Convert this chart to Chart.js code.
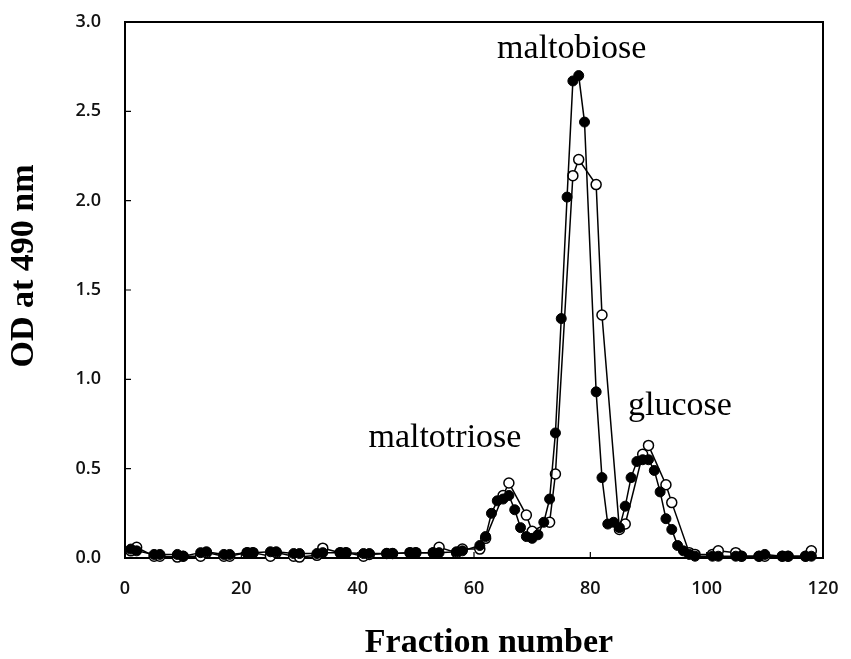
<!DOCTYPE html>
<html>
<head>
<meta charset="utf-8">
<script src="https://cdn.jsdelivr.net/npm/chart.js@4.4.0/dist/chart.umd.min.js"></script>
<style>
  html, body { margin: 0; padding: 0; background: #fff; }
  #wrap { width: 851px; height: 659px; position: relative; }
</style>
</head>
<body>
<div id="wrap"><canvas id="c"></canvas></div>
<script>
// Filled circles series
const fractionsSolid = [1,2,5,6,9,10,13,14,17,18,21,22,25,26,29,30,33,34,37,38,41,42,45,46,49,50,53,54,57,58,
  61,62,63,64,65,66,67,68,69,70,71,72,73,74,75,76,77,78,79,81,82,83,84,85,86,87,88,89,90,91,92,93,94,95,96,97,98,
  101,102,105,106,109,110,113,114,117,118];
const odSolid = [0.05,0.04,0.02,0.02,0.02,0.01,0.03,0.035,0.02,0.02,0.03,0.03,0.035,0.035,0.025,0.025,0.025,0.03,0.03,0.03,0.025,0.025,0.025,0.025,0.03,0.03,0.03,0.03,0.035,0.04,
  0.07,0.12,0.25,0.32,0.33,0.35,0.27,0.17,0.12,0.11,0.13,0.20,0.33,0.70,1.34,2.02,2.67,2.70,2.44,0.93,0.45,0.19,0.20,0.17,0.29,0.45,0.54,0.55,0.55,0.49,0.37,0.22,0.16,0.07,0.04,0.02,0.01,
  0.01,0.01,0.01,0.01,0.01,0.02,0.01,0.01,0.01,0.01];

// Open circles series
const fractionsOpen = [1,2,5,6,9,10,13,14,17,18,21,22,25,26,29,30,33,34,37,38,41,42,45,46,49,50,53,54,57,58,
  61,62,65,66,69,70,73,74,77,78,81,82,85,86,89,90,93,94,97,98,101,102,105,106,109,110,113,114,117,118];
const odOpen = [0.04,0.06,0.01,0.01,0.005,0.01,0.01,0.03,0.01,0.01,0.03,0.03,0.01,0.03,0.01,0.005,0.015,0.055,0.03,0.03,0.01,0.02,0.025,0.025,0.03,0.03,0.03,0.06,0.03,0.05,
  0.05,0.11,0.35,0.42,0.24,0.15,0.20,0.47,2.14,2.23,2.09,1.36,0.16,0.19,0.58,0.63,0.41,0.31,0.03,0.02,0.02,0.04,0.03,0.01,0.01,0.01,0.01,0.01,0.01,0.04];

const xTicks = [0,20,40,60,80,100,120];
const yTicks = [0.0,0.5,1.0,1.5,2.0,2.5,3.0];

const xTitle = 'Fraction number';
const yTitle = 'OD at 490 nm';
const peakLabels = [
  { text: 'maltobiose', frac: 76.8, od: 2.80 },
  { text: 'glucose', frac: 95.4, od: 0.80 },
  { text: 'maltotriose', frac: 55.0, od: 0.62 }
];

const toPts = (xs, ys) => xs.map((x, i) => ({ x: x, y: ys[i] }));

const extras = {
  id: 'extras',
  afterDraw(chart) {
    const ctx = chart.ctx;
    const a = chart.chartArea;
    const xs = chart.scales.x, ys = chart.scales.y;
    ctx.save();
    ctx.strokeStyle = '#000';
    ctx.lineWidth = 2;
    ctx.beginPath();
    ctx.moveTo(a.left, a.top);
    ctx.lineTo(a.right, a.top);
    ctx.lineTo(a.right, a.bottom);
    ctx.stroke();
    ctx.lineWidth = 1.2;
    ctx.beginPath();
    xTicks.forEach(v => {
      if (v === 0 || v === 120) return;
      const px = xs.getPixelForValue(v);
      ctx.moveTo(px, a.bottom);
      ctx.lineTo(px, a.bottom - 6);
    });
    yTicks.forEach(v => {
      if (v === 0 || v === 3) return;
      const py = ys.getPixelForValue(v);
      ctx.moveTo(a.left, py);
      ctx.lineTo(a.left + 6, py);
    });
    ctx.stroke();
    ctx.fillStyle = '#000';
    ctx.font = '34px "Liberation Serif", "Times New Roman", serif';
    ctx.textAlign = 'center';
    ctx.textBaseline = 'alphabetic';
    peakLabels.forEach(l => {
      ctx.fillText(l.text, xs.getPixelForValue(l.frac), ys.getPixelForValue(l.od));
    });
    ctx.font = 'bold 34px "Liberation Serif", "Times New Roman", serif';
    ctx.fillText(xTitle, 489, 652);
    ctx.translate(33, 266);
    ctx.rotate(-Math.PI / 2);
    ctx.fillText(yTitle, 0, 0);
    ctx.restore();
  }
};

const tickFont = { family: '"Open Sans", "Liberation Sans", Arial, sans-serif', size: 18, weight: '600' };

new Chart(document.getElementById('c'), {
  type: 'line',
  data: {
    datasets: [
      {
        label: 'filled',
        data: toPts(fractionsSolid, odSolid),
        borderColor: '#000',
        borderWidth: 1.5,
        backgroundColor: '#000',
        pointBackgroundColor: '#000',
        pointBorderColor: '#000',
        pointBorderWidth: 1,
        pointRadius: 5,
        tension: 0,
        clip: false
      },
      {
        label: 'open',
        data: toPts(fractionsOpen, odOpen),
        borderColor: '#000',
        borderWidth: 1.5,
        backgroundColor: '#fff',
        pointBackgroundColor: '#fff',
        pointBorderColor: '#000',
        pointBorderWidth: 1.5,
        pointRadius: 5,
        tension: 0,
        clip: false
      }
    ]
  },
  options: {
    responsive: true,
    maintainAspectRatio: false,
    animation: false,
    devicePixelRatio: 1,
    layout: { padding: { top: 22, right: 28, left: 0, bottom: 0 } },
    plugins: { legend: { display: false }, tooltip: { enabled: false } },
    scales: {
      x: {
        type: 'linear',
        min: 0, max: 120,
        afterBuildTicks: s => { s.ticks = xTicks.map(v => ({ value: v })); },
        ticks: { color: '#111', font: tickFont, padding: 20 },
        grid: { display: false, drawTicks: false },
        border: { display: true, color: '#000', width: 2 },
        afterFit: s => { s.height = 101; s.paddingLeft = 0; s.paddingRight = 0; }
      },
      y: {
        type: 'linear',
        min: 0, max: 3,
        afterBuildTicks: s => { s.ticks = yTicks.map(v => ({ value: v })); },
        ticks: {
          color: '#111', font: tickFont, padding: 24,
          callback: v => Number(v).toFixed(1)
        },
        grid: { display: false, drawTicks: false },
        border: { display: true, color: '#000', width: 2 },
        afterFit: s => { s.width = 125; s.paddingTop = 0; s.paddingBottom = 0; }
      }
    }
  },
  plugins: [extras]
});
</script>
</body>
</html>
